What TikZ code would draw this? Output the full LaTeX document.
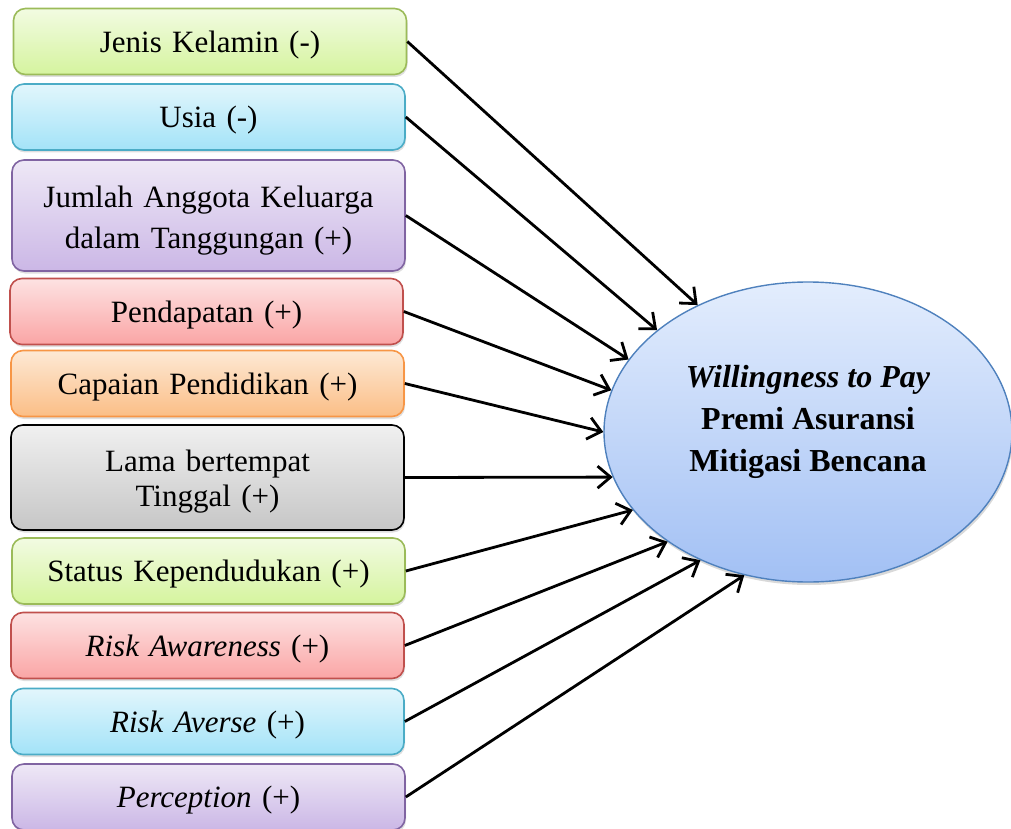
\documentclass[tikz,border=0pt]{standalone}
\usepackage{fontspec}
\setmainfont{Liberation Serif}
\usetikzlibrary{arrows.meta,shadows,shapes.geometric}

\definecolor{grnline}{HTML}{9BBB59}
\definecolor{grntop}{HTML}{F2FBE2}
\definecolor{grnbot}{HTML}{D5F49E}
\definecolor{blueline}{HTML}{4BACC6}
\definecolor{bluetop}{HTML}{E2F6FC}
\definecolor{bluebot}{HTML}{A3E3F8}
\definecolor{purline}{HTML}{8064A2}
\definecolor{purtop}{HTML}{EEE8F6}
\definecolor{purbot}{HTML}{CBB7E6}
\definecolor{redline}{HTML}{C0504D}
\definecolor{redtop}{HTML}{FDE2E2}
\definecolor{redbot}{HTML}{FAA5A5}
\definecolor{orgline}{HTML}{F79646}
\definecolor{orgtop}{HTML}{FDE9D5}
\definecolor{orgbot}{HTML}{FBBE86}
\definecolor{graytop}{HTML}{F0F0F0}
\definecolor{graybot}{HTML}{C6C6C6}
\definecolor{elline}{HTML}{4F81BD}
\definecolor{eltop}{HTML}{E3EDFD}
\definecolor{elbot}{HTML}{A2C0F4}

\begin{document}
\begin{tikzpicture}[
  x=1pt, y=-1pt,
  every node/.style={font=\fontsize{31}{37}\selectfont},
  factor/.style={draw, line width=1.6pt, rounded corners=12pt, align=center,
    minimum width=393pt, minimum height=66pt, text width=385pt, inner sep=0pt, text depth=0pt,
    drop shadow={shadow xshift=1pt, shadow yshift=-2.5pt, opacity=0.25}},
  greenbox/.style={factor, draw=grnline, top color=grntop, bottom color=grnbot},
  bluebox/.style={factor, draw=blueline, top color=bluetop, bottom color=bluebot},
  purplebox/.style={factor, draw=purline, top color=purtop, bottom color=purbot},
  redbox/.style={factor, draw=redline, top color=redtop, bottom color=redbot},
  orangebox/.style={factor, draw=orgline, top color=orgtop, bottom color=orgbot},
  graybox/.style={factor, draw=black, top color=graytop, bottom color=graybot},
  arrow/.style={-{Straight Barb[length=13pt, width=22pt, line width=2.8pt]}, line width=2.8pt}
]
\useasboundingbox (0,0) rectangle (1011,829);

% factors
\node[greenbox]  (jk)   at (210,41.5)  {Jenis Kelamin (-)};
\node[bluebox]   (usia) at (208.5,117) {Usia (-)};
\node[purplebox, minimum height=111pt, text depth=37pt] (agt) at (208.5,215.5) {Jumlah Anggota Keluarga\\[4pt]dalam Tanggungan (+)};
\node[redbox]    (pend) at (206.5,311.5) {Pendapatan (+)};
\node[orangebox] (edu)  at (207.5,383.5) {Capaian Pendidikan (+)};
\node[graybox, minimum height=105pt, text depth=33pt] (lama) at (207.5,477.5) {Lama bertempat\\[-2pt]Tinggal (+)};
\node[greenbox]  (stat) at (208.5,571) {Status Kependudukan (+)};
\node[redbox]    (raw)  at (207.5,645.5) {\textit{Risk Awareness} (+)};
\node[bluebox]   (rav)  at (207.5,721.5) {\textit{Risk Averse} (+)};
\node[purplebox] (perc) at (208.5,797) {\textit{Perception} (+)};

% outcome
\node[draw=elline, line width=1.4pt, ellipse, top color=eltop, bottom color=elbot,
  minimum width=408pt, minimum height=300pt, align=center, text depth=28pt,
  drop shadow={shadow xshift=1pt, shadow yshift=-3pt, opacity=0.3},
  font=\fontsize{32}{42}\selectfont\bfseries]
  (wtp) at (808,432) {\textit{Willingness to Pay}\\Premi Asuransi\\Mitigasi Bencana};

\draw[arrow] (jk.east)   -- (wtp.131);
\draw[arrow] (usia.east) -- (wtp.146);
\draw[arrow] (agt.east)  -- (wtp.158);
\draw[arrow] (pend.east) -- (wtp.168);
\draw[arrow] (edu.east)  -- (wtp.180);
\draw[arrow] (lama.east) -- (wtp.193);
\draw[arrow] (stat.east) -- (wtp.204);
\draw[arrow] (raw.east)  -- (wtp.218);
\draw[arrow] (rav.east)  -- (wtp.230);
\draw[arrow] (perc.east) -- (wtp.246);
\end{tikzpicture}
\end{document}
